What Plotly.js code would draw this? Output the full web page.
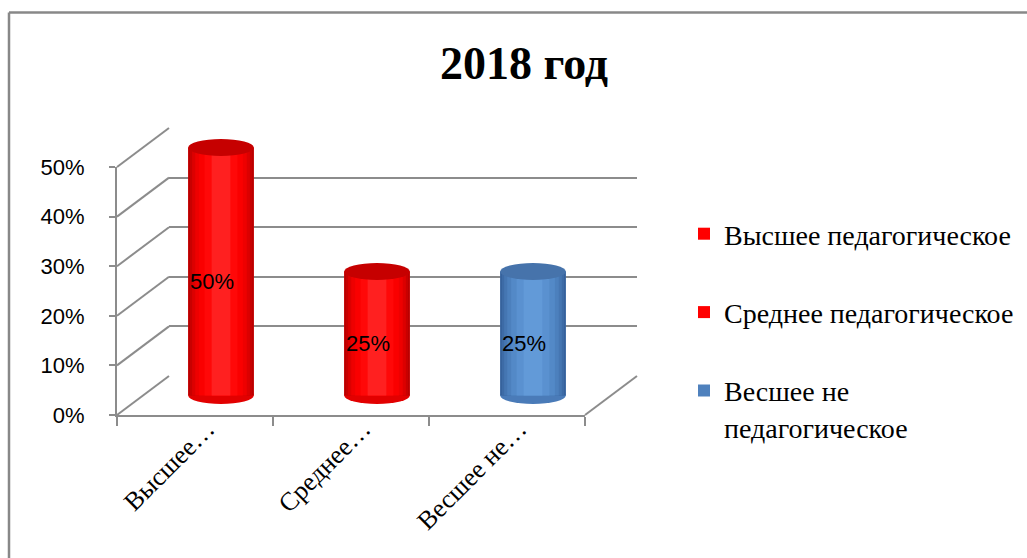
<!DOCTYPE html>
<html>
<head>
<meta charset="utf-8">
<script src="https://cdn.plot.ly/plotly-3.0.1.min.js"></script>
<style>html,body{margin:0;padding:0;background:#fff;}#chart{width:1027px;height:558px;}</style>
</head>
<body>
<div id="chart"></div>
<script>
// ---- data ----
const categories = ['Высшее…', 'Среднее…', 'Весшее не…'];
const seriesNames = ['Высшее педагогическое', 'Среднее педагогическое', 'Весшее не<br>педагогическое'];
const values = [0.5, 0.25, 0.25];
const valueLabels = ['50%', '25%', '25%'];
const yTickValues = [0, 0.1, 0.2, 0.3, 0.4, 0.5];
const seriesColors = ['#ff0000', '#ff0000', '#4f81bd'];

// ---- geometry (layout only) ----
const W = 1027, H = 558;
const fx0 = 117, fx1 = 585, fyBase = 415, fyTop = 167;   // front plane in px
const dX = 52, dY = 39;                                  // depth offset
const px = p => p / W, py = p => 1 - p / H;
const yMax = yTickValues[yTickValues.length - 1];
const pxPerUnit = (fyBase - fyTop) / yMax;
const gridCol = '#8c8c8c';
const serif = 'Liberation Serif';
const sans = 'Liberation Sans';

const shadeMap = {
  '#ff0000': ['#b40000', '#c80000', '#dc0000', '#ee0000', '#fa0000', '#ff0808', '#ff2020'],
  '#4f81bd': ['#35609a', '#3d6ba6', '#4576b2', '#4c80bd', '#5389c7', '#5a91d0', '#629ad8']
};
const topCol = {'#ff0000': '#c60000', '#4f81bd': '#4673ab'};
const botCol = {'#ff0000': '#e20000', '#4f81bd': '#4a7bb8'};
const layerWidths = [0.42, 0.40, 0.37, 0.33, 0.28, 0.21, 0.12];

const traces = [];
// invisible traces that create the back-wall, front-axis and label subplots
traces.push({x: [0], y: [0], xaxis: 'x', yaxis: 'y', mode: 'markers', marker: {opacity: 0}, showlegend: false, hoverinfo: 'skip'});
traces.push({x: [0], y: [0], xaxis: 'x2', yaxis: 'y2', mode: 'markers', marker: {opacity: 0}, showlegend: false, hoverinfo: 'skip'});
traces.push({x: categories, y: categories.map(() => 0), xaxis: 'x4', yaxis: 'y4', mode: 'markers', marker: {opacity: 0}, showlegend: false, hoverinfo: 'skip'});

categories.forEach((c, i) => {
  const sh = shadeMap[seriesColors[i]];
  // legend carrier (covered by the shaded layers)
  traces.push({
    type: 'bar', x: [c], y: [values[i]], width: [layerWidths[0]], xaxis: 'x3', yaxis: 'y3',
    marker: {color: seriesColors[i], line: {width: 0}},
    name: seriesNames[i], legendgroup: 'g' + i, showlegend: true, hoverinfo: 'skip'
  });
  layerWidths.forEach((w, L) => {
    traces.push({
      type: 'bar', x: [c], y: [values[i]], width: [w], xaxis: 'x3', yaxis: 'y3',
      marker: {color: sh[L], line: {width: 0}},
      name: seriesNames[i], legendgroup: 'g' + i, showlegend: false, hoverinfo: 'skip'
    });
  });
});

const shapes = [];
// chart border (top, left)
shapes.push({type: 'line', xref: 'paper', yref: 'paper', x0: px(9), x1: 1, y0: py(12.5), y1: py(12.5), line: {color: '#888', width: 2.5}});
shapes.push({type: 'line', xref: 'paper', yref: 'paper', x0: px(9), x1: px(9), y0: py(12.5), y1: 0, line: {color: '#888', width: 2.5}});
// side wall diagonals
yTickValues.forEach(t => {
  const yf = fyBase - t * pxPerUnit;
  shapes.push({type: 'line', layer: 'below', xref: 'paper', yref: 'paper', x0: px(fx0), y0: py(yf), x1: px(fx0 + dX), y1: py(yf - dY), line: {color: gridCol, width: 2}});
});
// floor right diagonal
shapes.push({type: 'line', layer: 'below', xref: 'paper', yref: 'paper', x0: px(fx1), y0: py(fyBase), x1: px(fx1 + dX), y1: py(fyBase - dY), line: {color: gridCol, width: 2}});

// cylinder caps
const capHalf = 8.5 / pxPerUnit;
const padPx = 14, padU = padPx / pxPerUnit;
values.forEach((v, i) => {
  const c = seriesColors[i];
  const w = layerWidths[0];
  shapes.push({type: 'circle', xref: 'x3', yref: 'y3', layer: 'between', x0: i - w / 2, x1: i + w / 2, y0: -capHalf, y1: capHalf, fillcolor: botCol[c], line: {width: 0}});
  shapes.push({type: 'circle', xref: 'x3', yref: 'y3', layer: 'above', x0: i - w / 2, x1: i + w / 2, y0: v - capHalf, y1: v + capHalf, fillcolor: topCol[c], line: {width: 0}});
});

const annotations = values.map((v, i) => ({
  xref: 'x3', yref: 'y3', x: i, y: v / 2, text: valueLabels[i], showarrow: false,
  xshift: -9, yshift: -10, font: {family: sans, size: 22, color: '#000'}
}));

const axBase = {showgrid: false, zeroline: false, showline: false, showticklabels: false, ticks: '', fixedrange: true};
const midX0 = fx0 + dX / 2, midX1 = fx1 + dX / 2, midYB = fyBase - dY / 2, midYT = fyTop - dY / 2;

const layout = {
  width: W, height: H, autosize: false,
  margin: {l: 0, r: 0, t: 0, b: 0, pad: 0},
  paper_bgcolor: '#fff', plot_bgcolor: 'rgba(0,0,0,0)',
  barmode: 'overlay',
  title: {text: '<b>2018 год</b>', x: px(524), y: py(63), xanchor: 'center', yanchor: 'middle',
          font: {family: serif, size: 46, color: '#000'}},
  // back wall
  xaxis: Object.assign({}, axBase, {domain: [px(fx0 + dX), px(fx1 + dX)], range: [-0.5, 2.5], anchor: 'y'}),
  yaxis: Object.assign({}, axBase, {domain: [py(fyBase - dY), py(fyTop - dY)], range: [0, yMax * 1.0005], anchor: 'x',
          showgrid: true, gridcolor: gridCol, gridwidth: 2, tickvals: yTickValues}),
  // front axes
  xaxis2: Object.assign({}, axBase, {domain: [px(fx0), px(fx1)], range: [-0.5, 2.5], anchor: 'y2',
          showline: true, linecolor: gridCol, linewidth: 2, ticks: 'outside', ticklen: 9, tickwidth: 2, tickcolor: gridCol,
          tickvals: [-0.5, 0.5, 1.5, 2.5]}),
  yaxis2: Object.assign({}, axBase, {domain: [py(fyBase), py(fyTop)], range: [0, yMax], anchor: 'x2',
          showline: true, linecolor: gridCol, linewidth: 2, ticks: 'outside', ticklen: 6, tickwidth: 2, tickcolor: gridCol,
          tickvals: yTickValues, tickformat: '.0%', showticklabels: true, ticklabelstandoff: 20,
          tickfont: {family: sans, size: 22, color: '#000'}}),
  // middle plane (cylinders), padded so caps are not clipped
  xaxis3: Object.assign({}, axBase, {domain: [px(midX0), px(midX1)], anchor: 'y3', type: 'category',
          categoryarray: categories, range: [-0.5, 2.5]}),
  yaxis3: Object.assign({}, axBase, {domain: [py(midYB + padPx), py(midYT - padPx)], range: [-padU, yMax + padU], anchor: 'x3'}),
  // category labels
  xaxis4: Object.assign({}, axBase, {domain: [px(midX0 - 14), px(midX1 - 14)], anchor: 'y4', type: 'category',
          categoryarray: categories, range: [-0.5, 2.5], showticklabels: true, tickangle: -45, ticklabelstandoff: 12,
          tickfont: {family: serif, size: 26, color: '#000'}}),
  yaxis4: Object.assign({}, axBase, {domain: [py(midYB), py(midYT)], range: [0, yMax], anchor: 'x4'}),
  legend: {x: px(684), y: py(209), xanchor: 'left', yanchor: 'top', traceorder: 'grouped', tracegroupgap: 39,
           valign: 'top', bgcolor: 'rgba(0,0,0,0)',
           font: {family: serif, size: 28, color: '#000'}},
  shapes: shapes,
  annotations: annotations
};

Plotly.newPlot('chart', traces, layout, {staticPlot: true, displayModeBar: false});
</script>
</body>
</html>
